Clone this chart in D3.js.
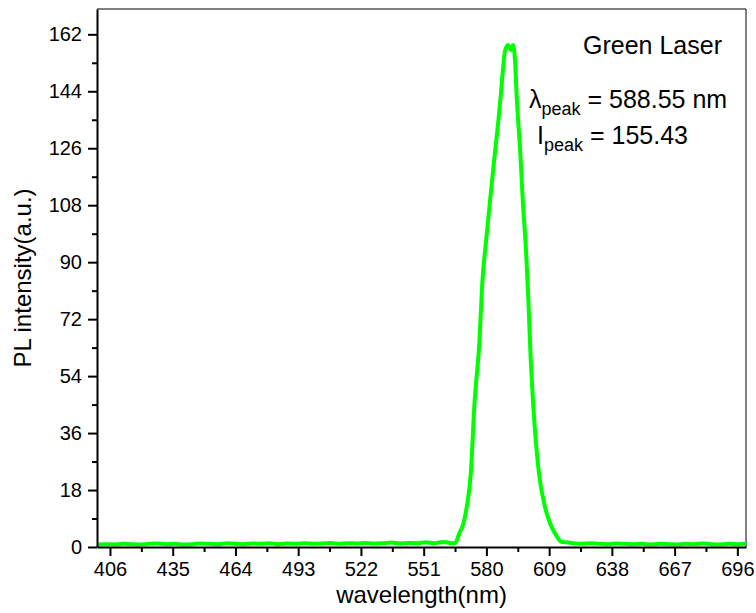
<!DOCTYPE html>
<html>
<head>
<meta charset="utf-8">
<script src="https://cdn.jsdelivr.net/npm/d3@7"></script>
<style>
  body { margin: 0; background: #fff; }
  svg { display: block; font-family: Arial, "Liberation Sans", sans-serif; }
</style>
</head>
<body>
<svg width="756" height="613"></svg>
<script>
// spectrum
var wavelength = [400, 404, 408, 412, 416, 420, 424, 428, 432, 436, 440, 444, 448, 452, 456, 460,
  464, 468, 472, 476, 480, 484, 488, 492, 496, 500, 504, 508, 512, 516, 520, 524, 528, 532, 536,
  540, 544, 548, 552, 556, 560, 563, 565.5, 567.5, 569.4, 570.9, 572.8, 574.4, 576.8, 578.1, 579.9,
  581.7, 583.7, 585.5, 586.6, 587.8, 588.6, 590.0, 591.4, 592.3, 593.3, 594.0, 594.8, 595.6, 596.8,
  598.3, 599.4, 600.3, 601.7, 604.3, 607.1, 609.4, 611.7, 614.8, 617, 620, 624, 628, 632, 636, 640,
  644, 648, 652, 656, 660, 664, 668, 672, 676, 680, 684, 688, 692, 696, 700];
var intensity = [0.8, 0.9, 0.8, 1.0, 0.9, 0.8, 1.0, 1.1, 0.9, 1.0, 0.8, 0.9, 1.1, 1.0, 0.9, 1.2,
  1.0, 0.9, 1.1, 1.0, 1.2, 0.9, 1.1, 1.0, 1.2, 1.0, 1.1, 1.3, 1.0, 1.2, 1.1, 1.3, 1.1, 1.2, 1.4,
  1.1, 1.3, 1.2, 1.5, 1.2, 1.6, 1.3, 1.2, 4.3, 7.5, 12.6, 23.3, 44.3, 65.3, 83.4, 97.0,
  109.6, 123.0, 134.5, 142.3, 152.0, 156.7, 158.6, 157.0, 158.6, 152.9, 142.3, 133.5, 125.4, 109.6,
  93.8, 78.0, 62.2, 44.3, 23.3, 12.6, 7.5, 4.3, 1.6, 1.5, 1.2, 1.0, 1.2, 1.0, 0.9, 1.1,
  1.0, 0.9, 1.0, 0.8, 1.0, 0.9, 0.8, 1.0, 0.9, 1.1, 0.9, 0.8, 1.0, 0.9, 1.0];

var xTicks = [406, 435, 464, 493, 522, 551, 580, 609, 638, 667, 696];
var xMinor = [420.5, 449.5, 478.5, 507.5, 536.5, 565.5, 594.5, 623.5, 652.5, 681.5];
var yTicks = [0, 18, 36, 54, 72, 90, 108, 126, 144, 162];
var yMinor = [9, 27, 45, 63, 81, 99, 117, 135, 153];

var svg = d3.select("svg"),
  margin = { top: 9, right: 10, bottom: 66, left: 97 },
  width = +svg.attr("width") - margin.left - margin.right,
  height = +svg.attr("height") - margin.top - margin.bottom;

var x = d3.scaleLinear().domain([400, 700]).range([0, width]),
  y = d3.scaleLinear().domain([0, 170]).range([height, 0]);

var g = svg.append("g")
  .attr("transform", "translate(" + margin.left + "," + margin.top + ")");

// thin frame on top and right
g.append("path")
  .attr("d", "M0,0H" + width + "V" + height)
  .attr("fill", "none")
  .attr("stroke", "#000")
  .attr("stroke-width", 1);

var data = wavelength.map(function(w, i) { return [w, intensity[i]]; });

g.append("path")
  .datum(data)
  .attr("fill", "none")
  .attr("stroke", "#00ff00")
  .attr("stroke-width", 4)
  .attr("stroke-linejoin", "round")
  .attr("d", d3.line()
    .x(function(d) { return x(d[0]); })
    .y(function(d) { return y(d[1]); })
    .curve(d3.curveMonotoneX));

// minor ticks first, major axes on top
g.append("g")
  .attr("transform", "translate(0," + height + ")")
  .call(d3.axisBottom(x).tickValues(xMinor).tickSize(5).tickFormat(""))
  .call(function(s) { s.select(".domain").remove(); });
g.append("g")
  .call(d3.axisLeft(y).tickValues(yMinor).tickSize(5).tickFormat(""))
  .call(function(s) { s.select(".domain").remove(); });

var xAxis = g.append("g")
  .attr("transform", "translate(0," + height + ")")
  .call(d3.axisBottom(x).tickValues(xTicks).tickSize(9).tickSizeOuter(0).tickPadding(6));
var yAxis = g.append("g")
  .call(d3.axisLeft(y).tickValues(yTicks).tickSize(9).tickSizeOuter(0).tickPadding(6));

g.selectAll(".tick line").attr("stroke-width", 2);
g.selectAll(".domain").attr("stroke-width", 2);
g.selectAll(".tick text")
  .attr("font-family", "Arial, 'Liberation Sans', sans-serif")
  .attr("font-size", 20)
  .attr("fill", "#000");

// axis titles
svg.append("text")
  .attr("x", margin.left + width / 2)
  .attr("y", 603)
  .attr("text-anchor", "middle")
  .attr("font-size", 24)
  .text("wavelength(nm)");

svg.append("text")
  .attr("transform", "translate(31,278) rotate(-90)")
  .attr("text-anchor", "middle")
  .attr("font-size", 24)
  .text("PL intensity(a.u.)");

// annotation
svg.append("text")
  .attr("x", 722)
  .attr("y", 54)
  .attr("text-anchor", "end")
  .attr("font-size", 25)
  .text("Green Laser");

var l1 = svg.append("text").attr("x", 529).attr("y", 108).attr("font-size", 25);
l1.append("tspan").text("\u03bb");
l1.append("tspan").attr("dy", 7).attr("font-size", 18).text("peak");
l1.append("tspan").attr("dy", -7).text(" = 588.55 nm");

var l2 = svg.append("text").attr("x", 537).attr("y", 144).attr("font-size", 25);
l2.append("tspan").text("I");
l2.append("tspan").attr("dy", 7).attr("font-size", 18).text("peak");
l2.append("tspan").attr("dy", -7).text(" = 155.43");
</script>
</body>
</html>
